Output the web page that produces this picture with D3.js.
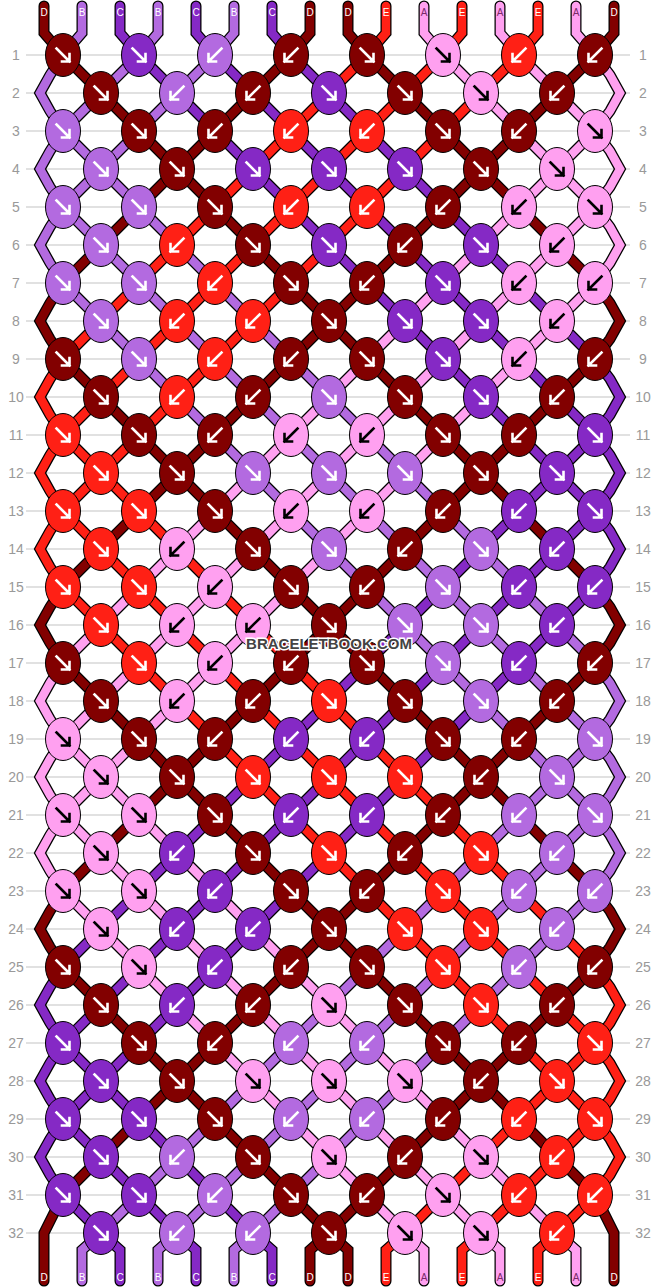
<!DOCTYPE html>
<html><head><meta charset="utf-8">
<script src="https://cdn.jsdelivr.net/npm/d3@7"></script>
<style>body{margin:0;background:#fff}</style>
</head><body><svg id="chart"></svg>
<script>
// string letters at the top, left to right
const startStrings = ["D","B","C","B","C","B","C","D","D","E","A","E","A","E","A","D"];
const colors = {D:"#820000", B:"#b36ae0", C:"#8529c5", E:"#ff2015", A:"#ffa0f0"};
// knot directions per row: R = forward (↘), L = backward (↙)
const rows = [
  "RRLLRRLL","RLLRRRL","RRLLLRLR","RRRRRRR","RRRLLLLR","RLRRLRL","RRLRLRLL","RLLRRRL",
  "RRLLRRLL","RLLRRRL","RRLLLRLR","RRRRRRR","RRRLLLLR","RLRRLRL","RRLRLRLL","RLLRRRL",
  "RRLLRRLL","RLLRRRL","RRLLLRLR","RRRRRLR","RRRLLLLR","RLRRLRL","RRLRLRLL","RLLRRRL",
  "RRLLRRLL","RLLRRRL","RRLLLRLR","RRRRRLR","RRRLLLLR","RLRRLRL","RRLRLRLL","RLLRRRL"
];

const W = 658, H = 1288;
const svg = d3.select("#chart").attr("width", W).attr("height", H);
const y = d3.scaleLinear().domain([1, 32]).range([55, 1233]);
const xOdd = d3.scaleLinear().domain([0, 7]).range([63, 595]);
const xEven = d3.scaleLinear().domain([0, 6]).range([101, 557]);

// grid lines and row numbers
const grid = svg.append("g");
d3.range(1, 33).forEach(r => {
  grid.append("line").attr("x1", 26).attr("x2", 630).attr("y1", y(r)).attr("y2", y(r))
    .attr("stroke", "#c4c4c4").attr("stroke-width", 1.2);
  grid.append("text").attr("x", 16).attr("y", y(r) + 5).attr("text-anchor", "middle")
    .attr("font-family", "Liberation Sans, Arial").attr("font-size", 14).attr("fill", "#999").text(r);
  grid.append("text").attr("x", 643).attr("y", y(r) + 5).attr("text-anchor", "middle")
    .attr("font-family", "Liberation Sans, Arial").attr("font-size", 14).attr("fill", "#999").text(r);
});

// simulate strings
let order = startStrings.map(s => ({letter: s, pts: []}));
order.forEach((s, i) => {
  const k = Math.floor(i / 2), x = xOdd(k) + (i % 2 ? 19 : -19);
  s.pts.push([x, 6], [x, 33]);
});
const knots = [];
rows.forEach((dirs, ri) => {
  const r = ri + 1, odd = r % 2 === 1;
  const next = order.slice();
  if (!odd) {
    if (r < 32) {
      order[0].pts.push([50, y(r) - 18], [40, y(r)], [50, y(r) + 18]);
      order[15].pts.push([610, y(r) - 18], [620, y(r)], [610, y(r) + 18]);
    } else {
      order[0].pts.push([44, y(r)]);
      order[15].pts.push([614, y(r)]);
    }
  }
  dirs.split("").forEach((d, k) => {
    const a = odd ? 2 * k : 2 * k + 1, b = a + 1;
    const x = odd ? xOdd(k) : xEven(k);
    const L = order[a], R = order[b];
    L.pts.push([x, y(r)]); R.pts.push([x, y(r)]);
    knots.push({x, y: y(r), dir: d, letter: d === "R" ? L.letter : R.letter});
    next[a] = R; next[b] = L;
  });
  order = next;
});
// bottom ends
order.forEach((s, i) => {
  if (i === 0 || i === 15) {
    const x = i === 0 ? 44 : 614;
    s.pts.push([x, 1281]);
  } else {
    const k = Math.floor((i - 1) / 2), x = xEven(k) + (i % 2 ? -19 : 19);
    s.pts.push([x, 1250], [x, 1281]);
  }
});

const line = d3.line();
const strands = svg.append("g");
order.forEach(s => {
  strands.append("path").attr("d", line(s.pts)).attr("fill", "none")
    .attr("stroke", "#000").attr("stroke-width", 11).attr("stroke-linejoin", "miter").attr("stroke-linecap", "round");
  strands.append("path").attr("d", line(s.pts)).attr("fill", "none")
    .attr("stroke", colors[s.letter]).attr("stroke-width", 8.5).attr("stroke-linejoin", "miter").attr("stroke-linecap", "round");
});

// end labels
const labelFill = l => l === "A" ? "#7a2a6a" : "#fff";
startStrings.forEach((l, i) => {
  const k = Math.floor(i / 2), x = xOdd(k) + (i % 2 ? 19 : -19);
  svg.append("text").attr("x", x).attr("y", 16).attr("text-anchor", "middle")
    .attr("font-family", "Liberation Sans, Arial").attr("font-size", 10).attr("fill", labelFill(l)).text(l);
});
order.forEach(s => {
  const x = s.pts[s.pts.length - 1][0];
  svg.append("text").attr("x", x).attr("y", 1281).attr("text-anchor", "middle")
    .attr("font-family", "Liberation Sans, Arial").attr("font-size", 10).attr("fill", labelFill(s.letter)).text(s.letter);
});

// knots
const kg = svg.selectAll("g.knot").data(knots).join("g").attr("class", "knot")
  .attr("transform", d => `translate(${d.x},${d.y})`);
kg.append("ellipse").attr("rx", 17.5).attr("ry", 21.5)
  .attr("fill", d => colors[d.letter]).attr("stroke", "#000").attr("stroke-width", 1);
kg.append("path")
  .attr("d", d => d.dir === "R"
    ? "M-6.5,-6.5 L6.5,6.5 M6.5,6.5 L6.5,-1 M6.5,6.5 L-1,6.5"
    : "M6.5,-6.5 L-6.5,6.5 M-6.5,6.5 L-6.5,-1 M-6.5,6.5 L1,6.5")
  .attr("fill", "none").attr("stroke", d => d.letter === "A" ? "#000" : "#fff")
  .attr("stroke-width", 2.6).attr("stroke-linecap", "square");

// watermark
svg.append("text").attr("x", 329).attr("y", 649).attr("text-anchor", "middle")
  .attr("font-family", "Liberation Sans, Arial").attr("font-weight", "bold").attr("font-size", 15)
  .attr("fill", "#444").attr("stroke", "#fff").attr("stroke-width", 3).attr("paint-order", "stroke")
  .text("BRACELETBOOK.COM");
</script></body></html>
